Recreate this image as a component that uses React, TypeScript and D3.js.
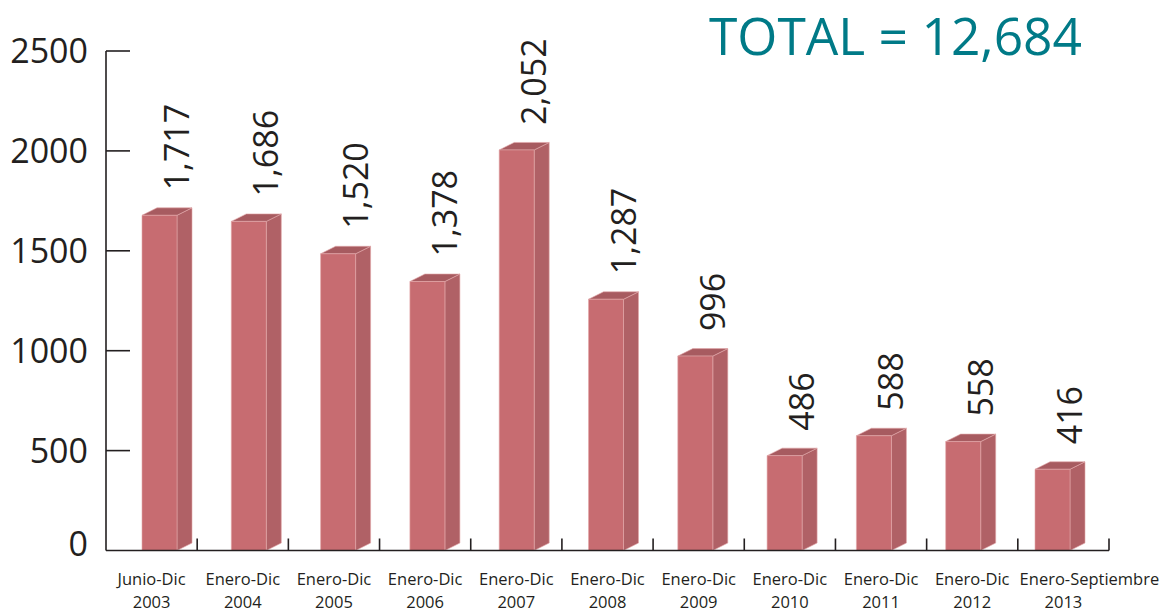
import React, { useEffect, useRef } from "react";
import * as d3 from "d3";

const periods = [
  "Junio-Dic", "Enero-Dic", "Enero-Dic", "Enero-Dic", "Enero-Dic", "Enero-Dic",
  "Enero-Dic", "Enero-Dic", "Enero-Dic", "Enero-Dic", "Enero-Septiembre",
];
const years = ["2003", "2004", "2005", "2006", "2007", "2008", "2009", "2010", "2011", "2012", "2013"];
const values = [1717, 1686, 1520, 1378, 2052, 1287, 996, 486, 588, 558, 416];
const yTicks = [0, 500, 1000, 1500, 2000, 2500];
const totalPrefix = "TOTAL = ";

const W = 1168;
const H = 613;
const FONT = "'Open Sans', 'Noto Sans', sans-serif";
const INK = "#231f20";
const FRONT = "#c76c71";
const SIDE = "#b06166";
const TOP = "#a75b60";
const EDGE = "#e2a7aa";
const TEAL = "#007a87";

export default function App() {
  const ref = useRef<SVGSVGElement>(null);

  const keys = years;
  const y = d3.scaleLinear().domain([0, 2500]).range([550.5, 51]);
  const barH = d3.scaleLinear().domain([0, 2500]).range([550.5, 62.5]);
  const band = d3.scaleBand<string>().domain(keys).range([106, 1109]).paddingInner(0).paddingOuter(0);
  const barX = d3.scalePoint<string>().domain(keys).range([142, 1035]);
  const fmt = d3.format(",");
  const barW = 35;
  const dx = 15;
  const dy = 7.5;
  const total = d3.sum(values);

  useEffect(() => {
    // shift long category labels right so they don't collide with the previous one
    const svg = d3.select(ref.current);
    const nodes = svg.selectAll<SVGTextElement, unknown>("text.cat1").nodes();
    let prevRight = -Infinity;
    nodes.forEach((n) => {
      const b = n.getBBox();
      let left = b.x;
      if (left < prevRight + 10) {
        const shift = prevRight + 10 - left;
        n.setAttribute("x", String(+n.getAttribute("x")! + shift));
        left += shift;
      }
      prevRight = left + b.width;
    });
  }, []);

  return (
    <svg
      ref={ref}
      width={W}
      height={H}
      viewBox={`0 0 ${W} ${H}`}
      style={{ position: "absolute", left: 0, top: 0, background: "#fff", fontFamily: FONT }}
    >
      {/* bars */}
      {values.map((v, i) => {
        const k = keys[i];
        const x0 = barX(k)!;
        const x1 = x0 + barW;
        const yb = barH(0);
        const yt = barH(v);
        const front = `M${x0},${yb}L${x0},${yt}L${x1},${yt}L${x1},${yb}Z`;
        const side = `M${x1},${yb}L${x1},${yt}L${x1 + dx},${yt - dy}L${x1 + dx},${yb - dy}Z`;
        const top = `M${x0},${yt}L${x0 + dx},${yt - dy}L${x1 + dx},${yt - dy}L${x1},${yt}Z`;
        return (
          <g key={k}>
            <path d={side} fill={SIDE} stroke={EDGE} strokeWidth={0.6} />
            <path d={top} fill={TOP} stroke={EDGE} strokeWidth={0.6} />
            <path d={front} fill={FRONT} stroke={EDGE} strokeWidth={0.6} />
            <text
              transform={`translate(${x0 + 47},${yt - 25}) rotate(-90)`}
              fontSize={34}
              fill={INK}
              textAnchor="start"
            >
              {fmt(v)}
            </text>
          </g>
        );
      })}

      {/* y axis */}
      <line x1={106} x2={106} y1={y(2500)} y2={y(0)} stroke={INK} strokeWidth={1.6} />
      {yTicks.map((t) => (
        <g key={t}>
          {t > 0 && <line x1={106} x2={130} y1={y(t)} y2={y(t)} stroke={INK} strokeWidth={1.6} />}
          <text x={88} y={y(t) + (t === 0 ? 5 : 12)} textAnchor="end" fontSize={34} fill={INK}>
            {t}
          </text>
        </g>
      ))}

      {/* x axis */}
      <line x1={106} x2={1109} y1={y(0)} y2={y(0)} stroke={INK} strokeWidth={1.6} />
      {keys.map((k) => (
        <line
          key={k}
          x1={band(k)! + band.bandwidth()}
          x2={band(k)! + band.bandwidth()}
          y1={y(0)}
          y2={y(0) - 12}
          stroke={INK}
          strokeWidth={1.6}
        />
      ))}
      {keys.map((k, i) => {
        const cx = band(k)! + band.bandwidth() / 2;
        return (
          <g key={k}>
            <text className="cat1" x={cx} y={585} textAnchor="middle" fontSize={16.5} fill={INK}>
              {periods[i]}
            </text>
            <text x={cx} y={608} textAnchor="middle" fontSize={16.5} fill={INK}>
              {years[i]}
            </text>
          </g>
        );
      })}

      {/* total */}
      <text x={709} y={55} fontSize={51.5} fill={TEAL}>
        {totalPrefix + fmt(total)}
      </text>
    </svg>
  );
}
